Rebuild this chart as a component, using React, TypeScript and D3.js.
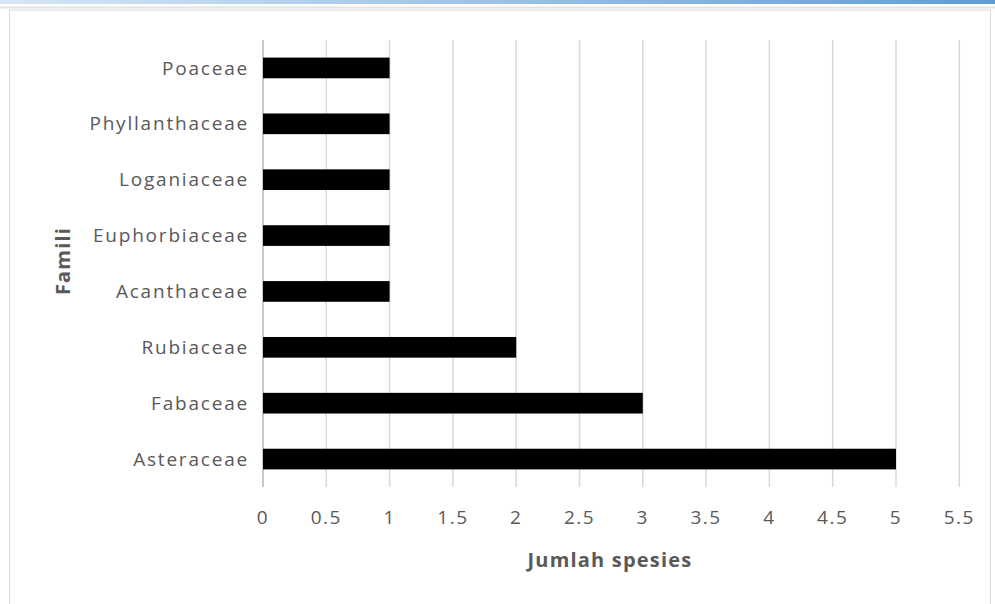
import React from 'react';
import * as d3 from 'd3';

const families = ['Poaceae', 'Phyllanthaceae', 'Loganiaceae', 'Euphorbiaceae', 'Acanthaceae', 'Rubiaceae', 'Fabaceae', 'Asteraceae'];
const speciesCount = [1, 1, 1, 1, 1, 2, 3, 5];
const xTicks = [0, 0.5, 1, 1.5, 2, 2.5, 3, 3.5, 4, 4.5, 5, 5.5];

const W = 995;
const H = 604;
const margin = { top: 40, right: 35, bottom: 117, left: 263 };
const font = '"Open Sans", "DejaVu Sans", sans-serif';
const textColor = '#595959';

const App: React.FC = () => {
  const x = d3.scaleLinear().domain([0, 5.5]).range([margin.left, margin.left + 5.5 * 126.6]);
  const y = d3.scaleBand().domain(families).range([margin.top, H - margin.bottom]).paddingInner(0.63).paddingOuter(0.315);
  const plotBottom = H - margin.bottom;

  return (
    <svg width={W} height={H} style={{ position: 'absolute', top: 0, left: 0, background: '#fff' }}>
      <defs>
        <linearGradient id="band" x1="0" x2="1" y1="0" y2="0">
          <stop offset="0" stopColor="#d6e6f6" />
          <stop offset="1" stopColor="#5f9dd7" />
        </linearGradient>
      </defs>
      <rect x={0} y={0} width={W} height={4} fill="url(#band)" />
      <line x1={0} x2={W} y1={7.5} y2={7.5} stroke="#e4e4e4" strokeWidth={2} />
      <rect x={9.5} y={10} width={981} height={600} fill="none" stroke="#d9d9d9" />

      {/* gridlines */}
      {xTicks.map(t => (
        <line key={t} x1={x(t)} x2={x(t)} y1={margin.top} y2={plotBottom} stroke="#d9d9d9" strokeWidth={1.5} />
      ))}
      <line x1={x(0)} x2={x(0)} y1={margin.top} y2={plotBottom} stroke="#bfbfbf" strokeWidth={1.5} />

      {/* bars */}
      {families.map((f, i) => (
        <rect key={f} x={x(0)} y={y(f)!} width={x(speciesCount[i]) - x(0)} height={y.bandwidth()} fill="#000" />
      ))}

      {/* category labels */}
      {families.map(f => (
        <text key={f} x={x(0) - 14} y={y(f)! + y.bandwidth() / 2} dy="0.35em" textAnchor="end"
          fontFamily={font} fontSize={19} letterSpacing={1.8} fill={textColor}>{f}</text>
      ))}

      {/* x tick labels */}
      {xTicks.map(t => (
        <text key={t} x={x(t)} y={517} dy="0.35em" textAnchor="middle"
          fontFamily={font} fontSize={19} letterSpacing={1.5} fill={textColor}>{String(t)}</text>
      ))}

      <text x={610} y={560} dy="0.35em" textAnchor="middle" fontFamily={font} fontSize={20}
        letterSpacing={1.2} fontWeight="bold" fill={textColor}>Jumlah spesies</text>
      <text transform={`translate(63,261) rotate(-90)`} dy="0.35em" textAnchor="middle" fontFamily={font}
        fontSize={20} letterSpacing={1.2} fontWeight="bold" fill={textColor}>Famili</text>
    </svg>
  );
};

export default App;
